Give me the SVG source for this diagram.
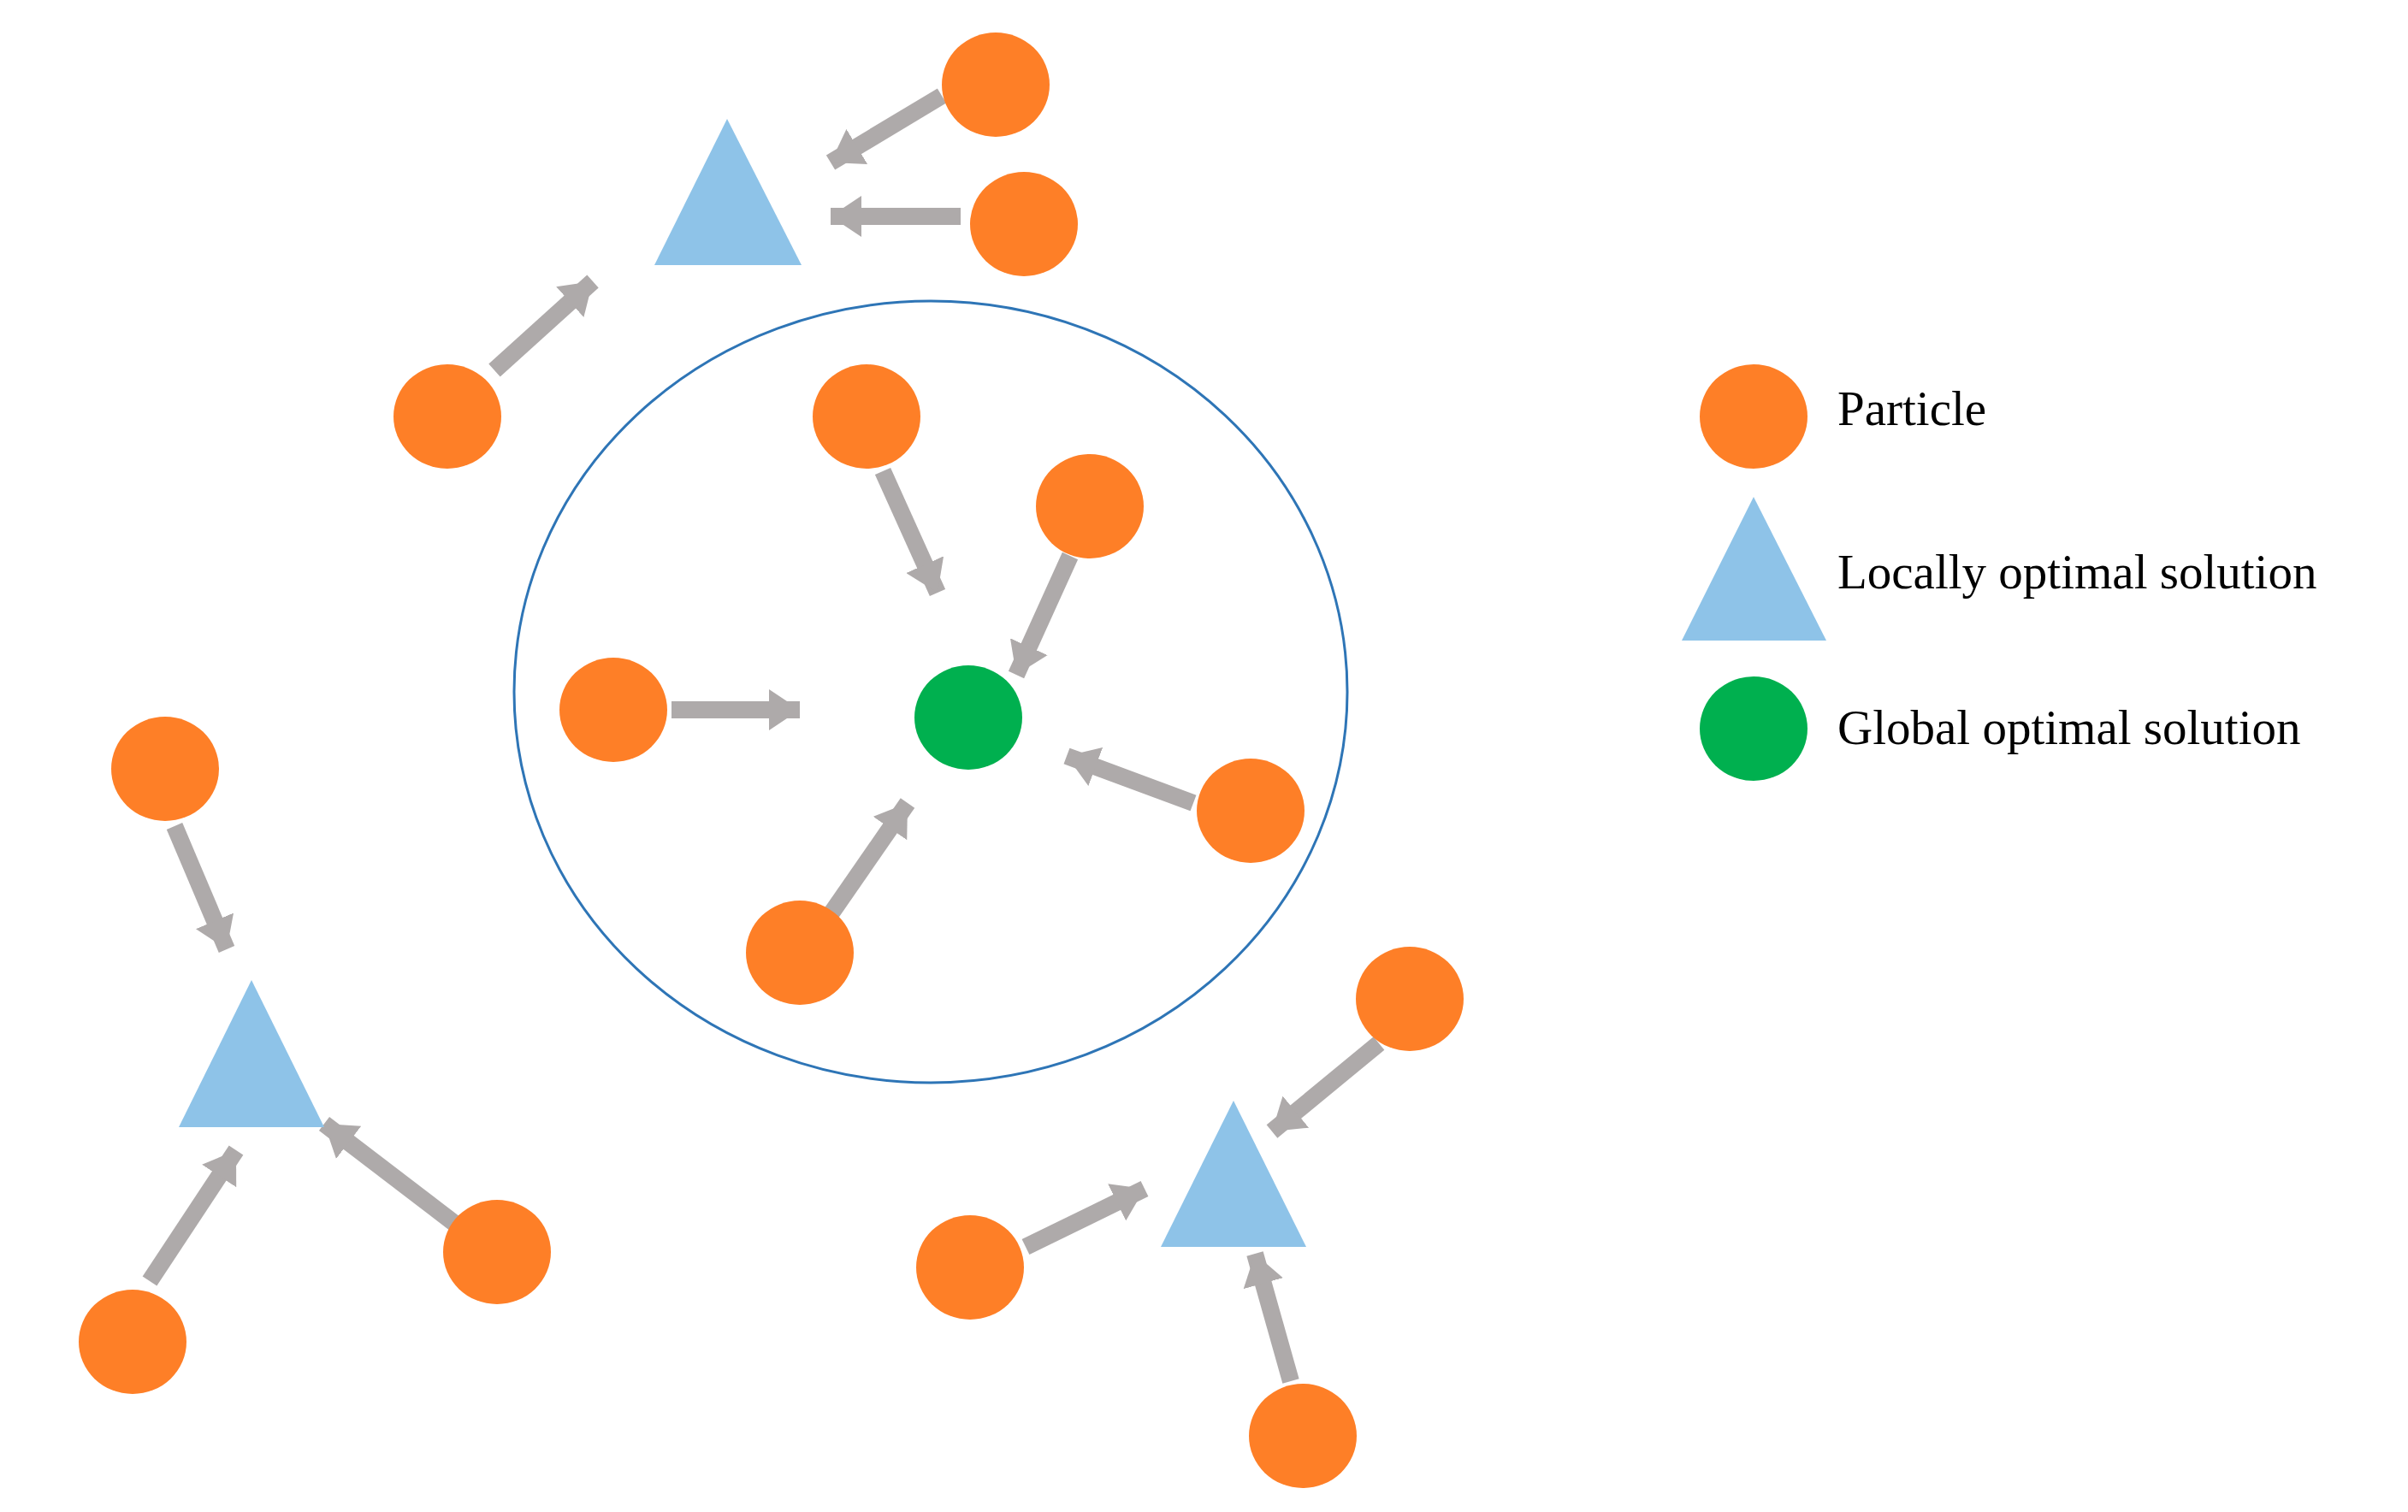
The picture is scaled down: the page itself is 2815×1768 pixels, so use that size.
<svg xmlns="http://www.w3.org/2000/svg" width="2815" height="1768" viewBox="0 0 2815 1768">
<style>
.p{fill:#FE7F27}.t{fill:#8EC3E8}.g{fill:#00B04F}
.a{stroke:#AEAAAA;stroke-width:20;fill:none;marker-end:url(#h)}
text{font-family:"Liberation Serif",serif;font-size:57px;fill:#000}
</style>
<defs><marker id="h" markerUnits="userSpaceOnUse" markerWidth="36" markerHeight="48" viewBox="0 0 36 48" refX="36" refY="24" orient="auto"><path d="M0,0 L36,24 L0,48 z" fill="#AEAAAA"/></marker></defs>
<rect width="2815" height="1768" fill="#fff"/>
<ellipse cx="1088" cy="809" rx="487" ry="457" fill="none" stroke="#2E75B6" stroke-width="3"/>
<g id="connectors">
<line class="a" x1="1101" y1="112" x2="971" y2="190"/>
<line class="a" x1="1123" y1="253" x2="971" y2="253"/>
<line class="a" x1="578" y1="433" x2="693" y2="329"/>
<line class="a" x1="1032" y1="551" x2="1096" y2="693"/>
<line class="a" x1="1251" y1="650" x2="1188" y2="789"/>
<line class="a" x1="785" y1="830" x2="935" y2="830"/>
<line class="a" x1="1395" y1="939" x2="1247" y2="884"/>
<line class="a" x1="971" y1="1069" x2="1061" y2="939"/>
<line class="a" x1="204" y1="966" x2="265" y2="1110"/>
<line class="a" x1="532" y1="1431" x2="379" y2="1314"/>
<line class="a" x1="175" y1="1498" x2="276" y2="1345"/>
<line class="a" x1="1612" y1="1220" x2="1487" y2="1323"/>
<line class="a" x1="1199" y1="1458" x2="1338" y2="1390"/>
<line class="a" x1="1509" y1="1615" x2="1467" y2="1466"/>
</g>
<g id="p1"><ellipse class="p" cx="1164" cy="99" rx="63" ry="61"/></g>
<g id="p2"><ellipse class="p" cx="1197" cy="262" rx="63" ry="61"/></g>
<g id="p3"><ellipse class="p" cx="523" cy="487" rx="63" ry="61"/></g>
<g id="p4"><ellipse class="p" cx="1013" cy="487" rx="63" ry="61"/></g>
<g id="p5"><ellipse class="p" cx="1274" cy="592" rx="63" ry="61"/></g>
<g id="p6"><ellipse class="p" cx="717" cy="830" rx="63" ry="61"/></g>
<g id="p7"><ellipse class="p" cx="1462" cy="948" rx="63" ry="61"/></g>
<g id="p8"><ellipse class="p" cx="935" cy="1114" rx="63" ry="61"/></g>
<g id="p9"><ellipse class="p" cx="193" cy="899" rx="63" ry="61"/></g>
<g id="p10"><ellipse class="p" cx="581" cy="1464" rx="63" ry="61"/></g>
<g id="p11"><ellipse class="p" cx="155" cy="1569" rx="63" ry="61"/></g>
<g id="p12"><ellipse class="p" cx="1648" cy="1168" rx="63" ry="61"/></g>
<g id="p13"><ellipse class="p" cx="1134" cy="1482" rx="63" ry="61"/></g>
<g id="p14"><ellipse class="p" cx="1523" cy="1679" rx="63" ry="61"/></g>
<g id="global"><ellipse class="g" cx="1132" cy="839" rx="63" ry="61"/></g>
<g id="t1"><polygon class="t" points="850,139 765,310 937,310"/></g>
<g id="t2"><polygon class="t" points="294,1146 209,1318 379,1318"/></g>
<g id="t3"><polygon class="t" points="1442,1287 1357,1458 1527,1458"/></g>
<g id="legend">
<ellipse class="p" cx="2050" cy="487" rx="63" ry="61"/>
<text x="2148" y="497">Particle</text>
<polygon class="t" points="2050,581 1966,749 2135,749"/>
<text x="2148" y="688">Locally  optimal solution</text>
<ellipse class="g" cx="2050" cy="852" rx="63" ry="61"/>
<text x="2148" y="870">Global optimal solution</text>
</g>
</svg>
